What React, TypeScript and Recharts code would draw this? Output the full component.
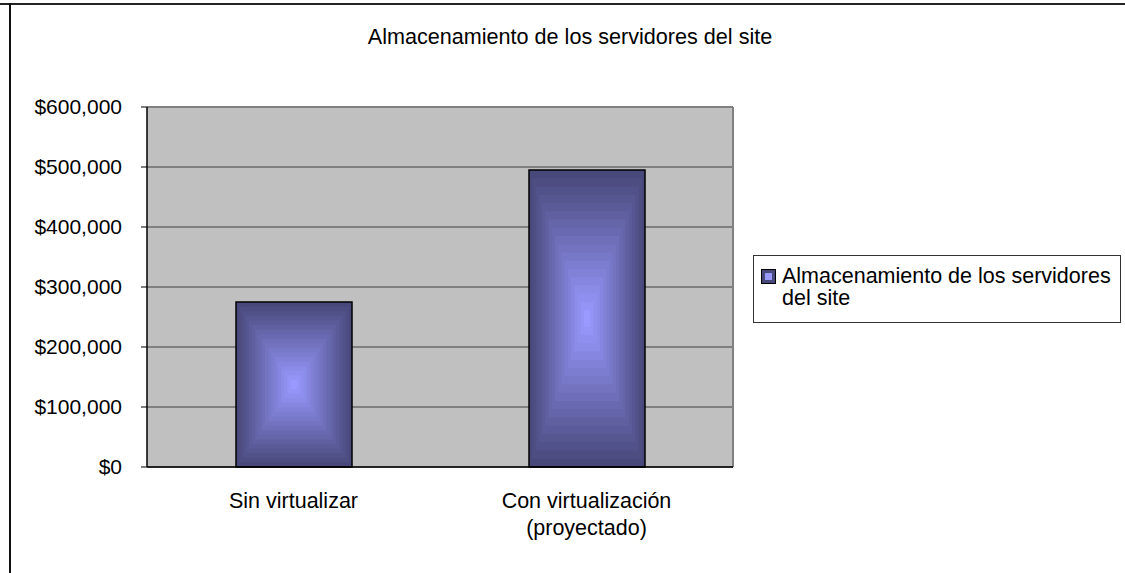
import React from 'react';
import {
  BarChart,
  Bar,
  XAxis,
  YAxis,
  CartesianGrid,
  Legend,
} from 'recharts';

// Data
const categories = ['Sin virtualizar', 'Con virtualización\n(proyectado)'];
const storageValues = [275000, 495000];
const yTicks = [0, 100000, 200000, 300000, 400000, 500000, 600000];
const seriesName = 'Almacenamiento de los servidores del site';

const chartData = categories.map((name, i) => ({ name, value: storageValues[i] }));

const FONT = '"Liberation Sans", Arial, sans-serif';

// Colors for the rectangular gradient (edge -> center)
const EDGE = [72, 72, 122];
const CENTER = [153, 153, 255];
const STEPS = 18;

const mix = (t: number) => {
  const c = EDGE.map((e, i) => Math.round(e + (CENTER[i] - e) * t));
  return `rgb(${c[0]},${c[1]},${c[2]})`;
};

const formatMoney = (v: number) => `$${v.toLocaleString('en-US')}`;

// Bar with an Excel style "from center" rectangle gradient
const GradientBar = (props: any) => {
  const { x, y, width, height } = props;
  if (!width || !height) return null;
  const cx = x + width / 2;
  const cy = y + height / 2;
  const rects = [];
  for (let i = 0; i < STEPS; i++) {
    const s = 1 - i / STEPS;
    const w = width * s;
    const h = height * s;
    rects.push(
      <rect key={i} x={cx - w / 2} y={cy - h / 2} width={w} height={h} fill={mix(i / (STEPS - 1))} />
    );
  }
  return (
    <g>
      {rects}
      <rect x={x} y={y} width={width} height={height} fill="none" stroke="#000" strokeWidth={1.5} />
    </g>
  );
};

const CategoryTick = (props: any) => {
  const { x, y, payload } = props;
  const lines = String(payload.value).split('\n');
  return (
    <text x={x} y={y} textAnchor="middle" fill="#000" fontSize={21.5} fontFamily={FONT}>
      {lines.map((line, i) => (
        <tspan key={i} x={x} dy={i === 0 ? 41 : 27}>
          {line}
        </tspan>
      ))}
    </text>
  );
};

const LegendBox = () => (
  <div
    style={{
      boxSizing: 'border-box',
      width: 368,
      height: 68,
      border: '1px solid #333',
      background: '#fff',
      fontFamily: FONT,
      fontSize: 21.5,
      lineHeight: '22px',
      color: '#000',
      position: 'relative',
      textAlign: 'left',
    }}
  >
    <svg width={15} height={15} style={{ position: 'absolute', left: 7, top: 13 }}>
      <rect x={0.5} y={0.5} width={14} height={14} fill={mix(0)} stroke="#000" />
      <rect x={4} y={4} width={7} height={7} fill={mix(1)} />
    </svg>
    <div style={{ position: 'absolute', left: 28, top: 9, width: 338 }}>
      {seriesName}
    </div>
  </div>
);

export default function App() {
  return (
    <div
      style={{
        position: 'absolute',
        left: 0,
        top: 0,
        width: 1125,
        height: 573,
        background: '#fff',
        overflow: 'hidden',
      }}
    >
      {/* outer frame, only top and left edges visible */}
      <div style={{ position: 'absolute', left: 0, top: 3, width: 1125, height: 2, background: '#222' }} />
      <div style={{ position: 'absolute', left: 9, top: 3, width: 2, height: 573, background: '#111' }} />

      <div
        style={{
          position: 'absolute',
          left: 0,
          width: 1140,
          top: 24,
          textAlign: 'center',
          fontFamily: FONT,
          fontSize: 21.6,
          color: '#000',
        }}
      >
        {seriesName}
      </div>

      <BarChart
        width={1125}
        height={573}
        data={chartData}
        margin={{ top: 107, right: 392, bottom: 8, left: 0 }}
        barCategoryGap={0}
        style={{ position: 'absolute', left: 0, top: 0 }}
      >
        <CartesianGrid
          vertical={false}
          fill="#C0C0C0"
          fillOpacity={1}
          stroke="#404040"
          strokeWidth={1}
        />
        <CartesianGrid
          horizontalCoordinatesGenerator={({ offset }: any) => [offset.top]}
          verticalCoordinatesGenerator={({ offset }: any) => [offset.left + offset.width]}
          stroke="#808080"
          strokeWidth={2}
        />
        <XAxis
          dataKey="name"
          height={30}
          axisLine={{ stroke: '#000', strokeWidth: 1.5 }}
          tickLine={false}
          tickSize={0}
          tickMargin={0}
          tick={<CategoryTick />}
          interval={0}
        />
        <YAxis
          width={147}
          domain={[0, 600000]}
          ticks={yTicks}
          tickFormatter={formatMoney}
          axisLine={{ stroke: '#000', strokeWidth: 1.5 }}
          tickLine={{ stroke: '#000' }}
          tickSize={6}
          tickMargin={19}
          tick={{ fill: '#000', fontSize: 21, fontFamily: FONT }}
        />
        <Legend
          verticalAlign="bottom"
          content={<LegendBox />}
          wrapperStyle={{ position: 'absolute', left: 753, top: 255, width: 368, height: 68, bottom: 'auto' }}
        />
        <Bar
          dataKey="value"
          name={seriesName}
          barSize={116}
          shape={<GradientBar />}
          isAnimationActive={false}
        />
      </BarChart>
    </div>
  );
}
